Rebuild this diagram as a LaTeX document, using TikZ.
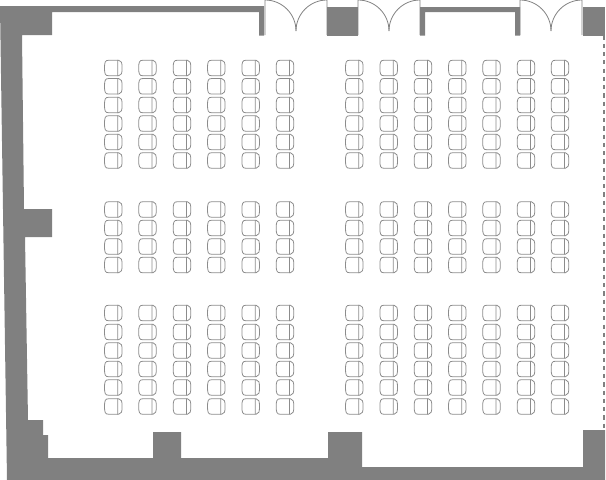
\documentclass[tikz,border=0pt]{standalone}
\definecolor{wallgray}{gray}{0.5}
\definecolor{seatgray}{gray}{0.55}
\tikzset{
  wall/.style={fill=wallgray, draw=none},
  doorline/.style={draw=wallgray, line width=0.45pt},
  chair/.pic={
    \draw[draw=seatgray, line width=0.45pt] (4.5,-7.7) -- (-5,-7.7) .. controls (-8,-7.7) and (-8.8,-6) .. (-8.8,0) .. controls (-8.8,6) and (-8,7.7) .. (-5,7.7) -- (4.5,7.7);
    \draw[draw=seatgray, line width=0.45pt] (4.5,-7.7) -- (5.5,-7.7) .. controls (8.2,-7.7) and (8.8,-5) .. (8.8,0) .. controls (8.8,5) and (8.2,7.7) .. (5.5,7.7) -- (4.5,7.7) -- cycle;
  }
}
\begin{document}
\begin{tikzpicture}[x=0.02cm, y=-0.02cm]
  \useasboundingbox (0,0) rectangle (606,480);
  % outer walls
  \fill[wall] (0,6) -- (264,6) -- (264,35.5) -- (259,35.5) -- (259,12) -- (52,12) -- (52,35) -- (22,35) -- (24,209) -- (52,209) -- (52,237) -- (25,237) -- (28,420) -- (43,420) -- (43,435) -- (48,435) -- (48,458) -- (153,458) -- (153,432) -- (181,432) -- (181,458) -- (328,458) -- (328,432) -- (362,432) -- (362,467) -- (583,467) -- (583,430) -- (605,430) -- (605,480) -- (7,480) -- cycle;
  \fill[wall] (327,7) rectangle (358,35.5);
  \fill[wall] (420,7) -- (520,7) -- (520,35.5) -- (515,35.5) -- (515,12) -- (425,12) -- (425,35.5) -- (420,35.5) -- cycle;
  \fill[wall] (583,7) rectangle (605,35.5);
  % open side
  \draw[wallgray, line width=0.95pt, dash pattern=on 2.4pt off 2.3pt] (603.7,35.5) -- (603.7,430);
  % doors
  \foreach \doorx in {265,358,520} {
    \draw[doorline] (\doorx,35) -- (\doorx,0) arc[start angle=90, end angle=0, x radius=31, y radius=-31];
    \draw[doorline] (\doorx+62,35) -- (\doorx+62,0) arc[start angle=90, end angle=180, x radius=31, y radius=-31];
  }
  % seats
  \foreach \rowy in {68,86.3,105,123.5,142,160.5,209.5,228,246.5,265,313,332,350.5,369,387.5,406.5} {
    \foreach \colx in {113.3,147.5,182,216.3,250.7,285,354.3,388.7,423,457.3,491.5,526,560} {
      \pic at (\colx,\rowy) {chair};
    }
  }
\end{tikzpicture}
\end{document}
